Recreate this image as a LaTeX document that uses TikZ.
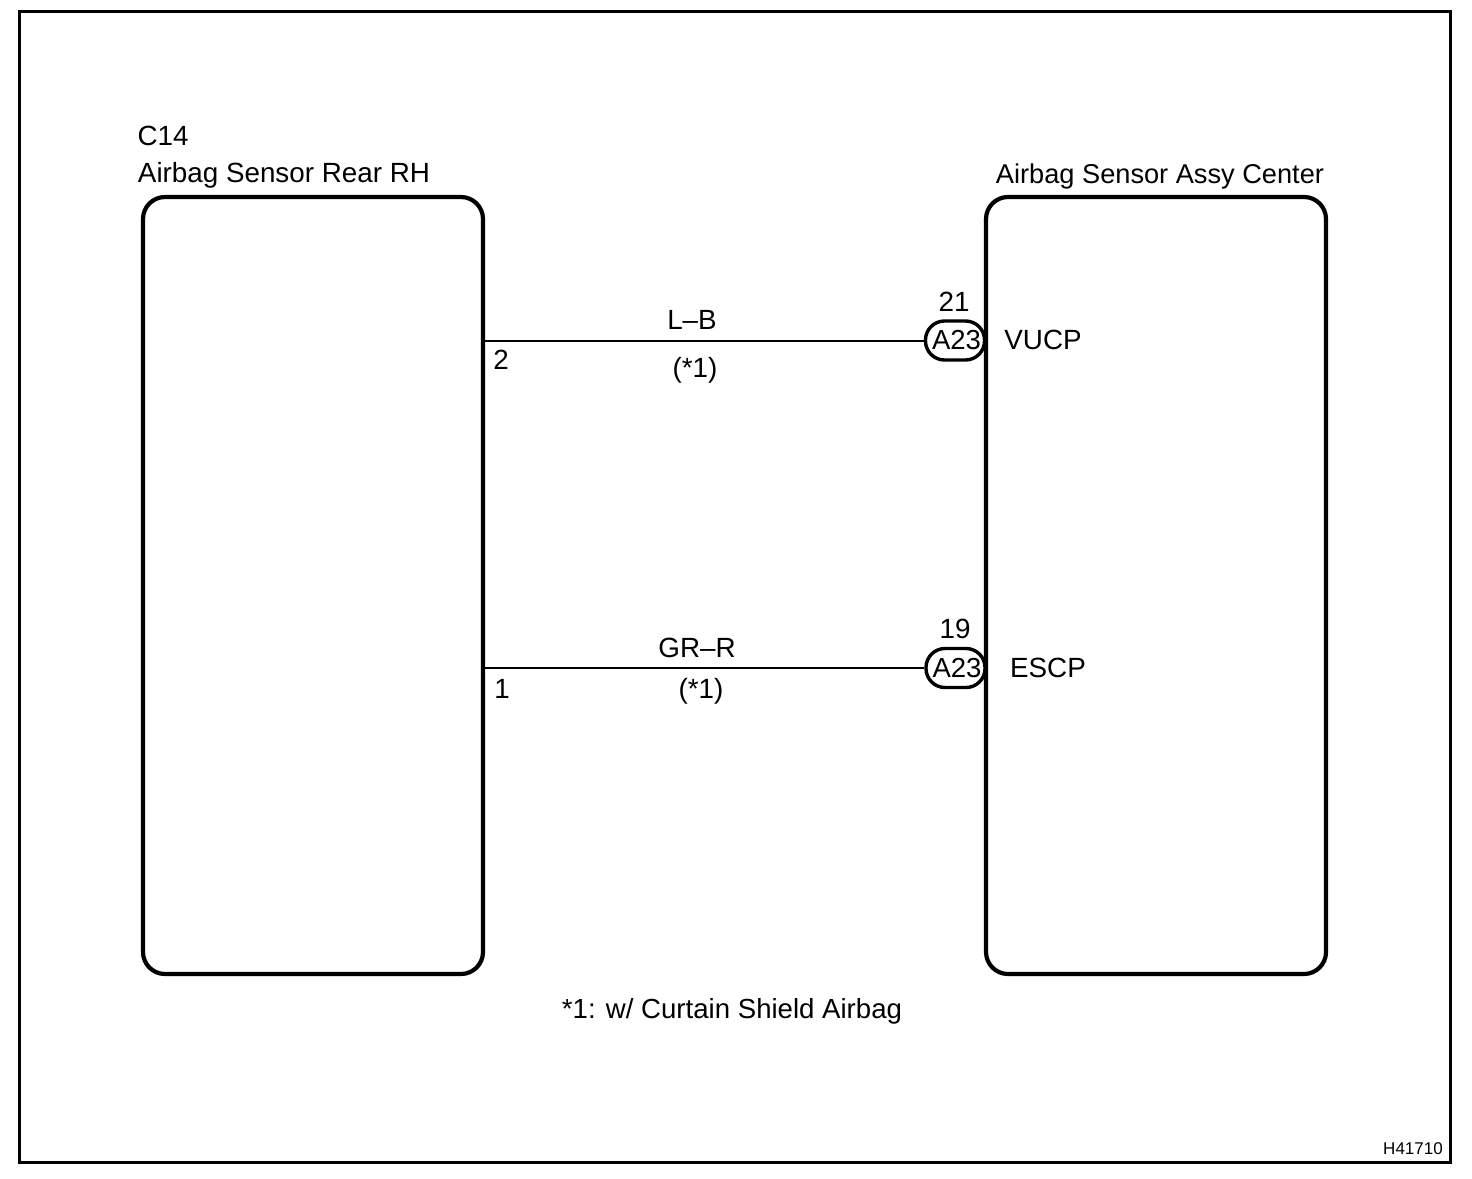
\documentclass[tikz,border=0pt]{standalone}
\usepackage{fontspec}
\setmainfont{Liberation Sans}
\tikzset{every picture/.style={line width=0.75pt}}
\tikzset{
  unitbox/.style={draw,line width=4.2pt,rounded corners=22pt,minimum width=340pt,minimum height=777pt,inner sep=0pt},
  connbox/.style={draw,line width=3.4pt,rounded corners=19pt,fill=white,minimum width=59pt,minimum height=39pt,inner sep=0pt,font=\fontsize{27.5}{27.5}\selectfont},
  wire/.style={line width=2pt},
  lbl/.style={inner sep=0pt,font=\fontsize{27.8}{27.8}\selectfont},
}
\begin{document}
\begin{tikzpicture}[x=1pt,y=1pt,yscale=-1,xscale=1]
\useasboundingbox (0,0) rectangle (1472,1178);
% frame
\draw [line width=3.6pt] (19.5,11.5) rectangle (1450.5,1162.5);

% units
\node [unitbox] (sensorrear) at (313,585.5) {};
\node [unitbox] (sensorcenter) at (1156,585.5) {};

% connectors
\node [connbox] (connvucp) at (955,340.5) {\hspace*{3pt}A23};
\node [connbox] (connescp) at (955.5,668) {\hspace*{3pt}A23};
\coordinate (pintwo) at (sensorrear.east |- connvucp);
\coordinate (pinone) at (sensorrear.east |- connescp);
\draw [wire] (pintwo) -- (connvucp);
\draw [wire] (pinone) -- (connescp);

% Text Node
\node [lbl] (labcfourteen) at (163,136) {C14};
\node [lbl] (labrear) at (284,175) {Airbag Sensor Rear RH};
\node [lbl,font=\fontsize{27.2}{27.2}\selectfont] (labcenter) at (1160,176) {Airbag Sensor Assy Center};
\node [lbl] (labtwentyone) at (954,302) {21};
\node [lbl] (labnineteen) at (955,629) {19};
\node [lbl] (labvucp) at (1043,340) {VUCP};
\node [lbl] (labescp) at (1048,668) {ESCP};
\node [lbl] (labtwo) at (501,360) {2};
\node [lbl] (labone) at (502,689) {1};
\node [lbl] (lablb) at (692,320) {L–B};
\node [lbl] (labgrr) at (697,648) {GR–R};
\node [lbl] (labstarup) at (695,370) {(*1)};
\node [lbl] (labstardown) at (701,691) {(*1)};
\node [lbl,font=\fontsize{27.6}{27.6}\selectfont] (labnote) at (732,1011) {*1: w/ Curtain Shield Airbag};
\node [inner sep=0pt,font=\fontsize{17}{17}\selectfont] (labcode) at (1413,1149) {H41710};
\end{tikzpicture}
\end{document}
